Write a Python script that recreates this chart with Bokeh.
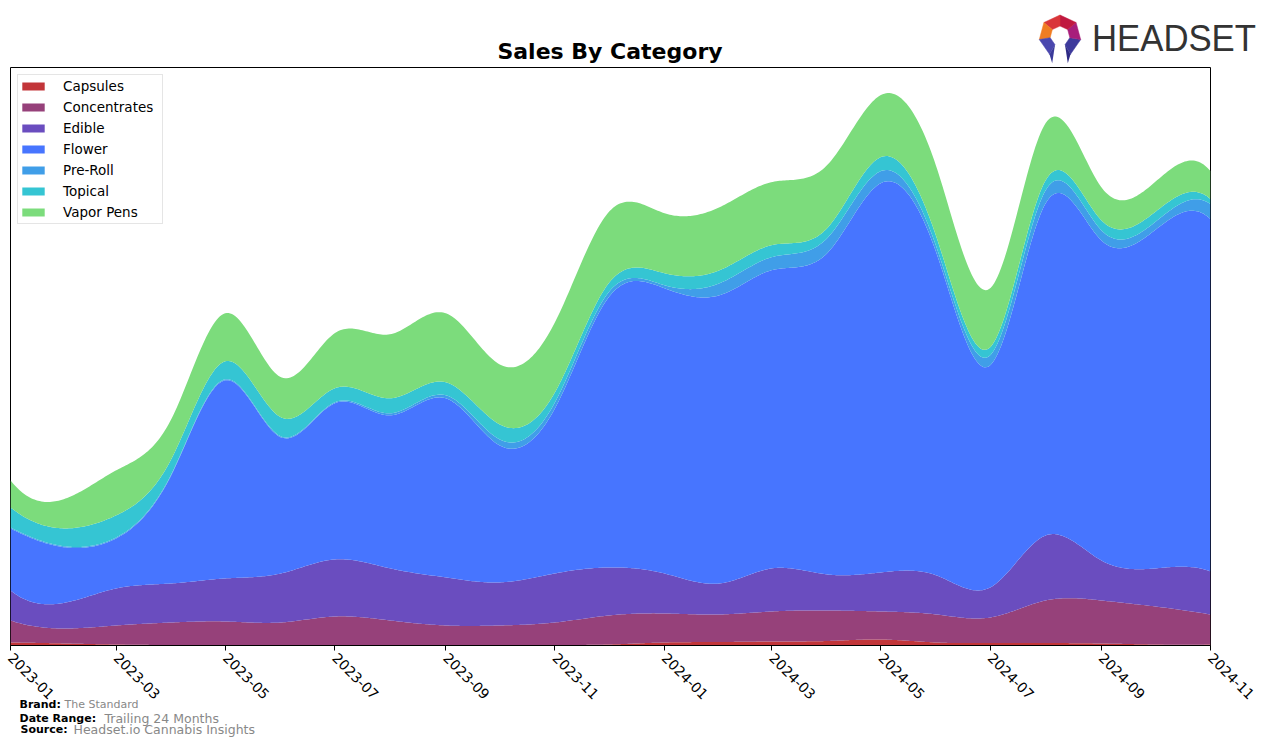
import numpy as np
import pandas as pd
from bokeh.plotting import figure
from bokeh.models import ColumnDataSource, FixedTicker, DatetimeTickFormatter, Range1d, Div
from bokeh.layouts import column
from bokeh.embed import file_html
from bokeh.resources import INLINE
from bokeh.core.properties import value

# ---------------- data (monthly, 2023-01 .. 2024-11) ----------------
months = ["2023-01", "2023-02", "2023-03", "2023-04", "2023-05", "2023-06", "2023-07",
          "2023-08", "2023-09", "2023-10", "2023-11", "2023-12", "2024-01", "2024-02",
          "2024-03", "2024-04", "2024-05", "2024-06", "2024-07", "2024-08", "2024-09",
          "2024-10", "2024-11"]
capsules = [3, 2, 1, 0.5, 0.5, 0.5, 0.3, 0.3, 0.3, 0.3, 0.5, 1, 3, 3.5, 4, 4.5, 6, 3, 2.5, 2.5, 2, 1, 1]
concentrates = [22, 15, 19, 22.5, 23.5, 22.5, 28.7, 24.7, 19.7, 19.7, 22.5, 29, 29, 27.5, 30, 30.5,
                28, 28, 25.5, 42.5, 43, 38, 30]
edible = [30, 26, 37, 39, 43, 49, 57, 52, 48, 43, 49, 48, 40, 31, 43, 36, 39, 39, 30, 65, 40, 38, 43]
flower = [62, 55, 50, 109, 198, 136, 156, 153, 179, 137, 165, 270, 285, 288, 298, 321, 389, 322,
          222, 332, 320, 338, 352]
preroll = [1, 1, 1, 1, 1, 1, 1, 2, 3, 6, 6, 5, 3, 12, 13, 15, 12, 6, 10, 13, 10, 8, 15]
topical = [20, 18, 22, 15, 18, 19, 14, 15, 13, 15, 10, 9, 12, 13, 12, 10, 14, 10, 8, 10, 10, 10, 5]
vapor = [27, 30, 45, 40, 48, 40, 55, 64, 69, 60, 70, 71, 60, 63, 63, 63, 62, 70, 59, 57, 33, 30, 28]

categories = ["Capsules", "Concentrates", "Edible", "Flower", "Pre-Roll", "Topical", "Vapor Pens"]
series = [capsules, concentrates, edible, flower, preroll, topical, vapor]
colors = ["#C23539", "#96417A", "#6A4DBF", "#4775FF", "#409EE8", "#35C5D3", "#7CDC7C"]
tick_labels = ["2023-01", "2023-03", "2023-05", "2023-07", "2023-09", "2023-11",
               "2024-01", "2024-03", "2024-05", "2024-07", "2024-09", "2024-11"]

footer_keys = ["Brand:", "Date Range:", "Source:"]
footer_vals = ["The Standard", "Trailing 24 Months", "Headset.io Cannabis Insights"]


def spline(xs, ys, xq):
    xs = np.asarray(xs, float)
    ys = np.asarray(ys, float)
    n = len(xs)
    h = np.diff(xs)
    A = np.zeros((n, n))
    b = np.zeros(n)
    for i in range(1, n - 1):
        A[i, i - 1] = h[i - 1]
        A[i, i] = 2 * (h[i - 1] + h[i])
        A[i, i + 1] = h[i]
        b[i] = 6 * ((ys[i + 1] - ys[i]) / h[i] - (ys[i] - ys[i - 1]) / h[i - 1])
    A[0, 0] = h[1]
    A[0, 1] = -(h[0] + h[1])
    A[0, 2] = h[0]
    A[-1, -3] = h[-1]
    A[-1, -2] = -(h[-2] + h[-1])
    A[-1, -1] = h[-2]
    M = np.linalg.solve(A, b)
    idx = np.clip(np.searchsorted(xs, xq) - 1, 0, n - 2)
    x0 = xs[idx]
    x1 = xs[idx + 1]
    hh = x1 - x0
    t0 = x1 - xq
    t1 = xq - x0
    return (M[idx] * t0 ** 3 / (6 * hh) + M[idx + 1] * t1 ** 3 / (6 * hh)
            + (ys[idx] / hh - M[idx] * hh / 6) * t0 + (ys[idx + 1] / hh - M[idx + 1] * hh / 6) * t1)


dates = pd.to_datetime(months)
days = ((dates - pd.Timestamp("1970-01-01")) / pd.Timedelta(days=1)).to_numpy()
dq = np.linspace(days[0], days[-1], 700)
data = {"x": dq * 86400000.0}
for name, s in zip(categories, series):
    data[name] = np.clip(spline(days, s, dq), 0, None)
src = ColumnDataSource(data)

totals = np.sum(np.array(series, float), axis=0)
ymax = totals.max() * 1.05
x0 = days[0] * 86400000.0
x1 = days[-1] * 86400000.0

W = 1270

# ---------------- header: title + logo ----------------
cx, cy, ro, ri = 30, 28, 21, 10
segs = [(-60, -10, "#3D3A9C"), (-10, 40, "#A81E7B"), (40, 90, "#C0183F"),
        (90, 140, "#D9363A"), (140, 190, "#F07D22"), (190, 240, "#4A47AE")]
polys = ""
for a0, a1, c in segs:
    r0, r1 = np.radians(a0), np.radians(a1)
    pts = [(cx + ro * np.cos(r0), cy - ro * np.sin(r0)), (cx + ro * np.cos(r1), cy - ro * np.sin(r1)),
           (cx + ri * np.cos(r1), cy - ri * np.sin(r1)), (cx + ri * np.cos(r0), cy - ri * np.sin(r0))]
    polys += '<polygon points="%s" fill="%s" stroke="%s" stroke-width="0.5"/>' % (
        " ".join("%.1f,%.1f" % q for q in pts), c, c)
for a, c in [(-60, "#2E2B85"), (240, "#3A3A9A")]:
    r = np.radians(a)
    po = (cx + ro * np.cos(r), cy - ro * np.sin(r))
    pi_ = (cx + ri * np.cos(r), cy - ri * np.sin(r))
    tip = ((po[0] + pi_[0]) / 2, po[1] + 9)
    polys += '<polygon points="%.1f,%.1f %.1f,%.1f %.1f,%.1f" fill="%s"/>' % (
        po[0], po[1], pi_[0], pi_[1], tip[0], tip[1], c)

header_html = (
    '<div style="position:relative;width:%dpx;height:66px;">' % W
    + '<div style="position:absolute;left:0px;width:1220px;top:40px;text-align:center;'
      'font-family:\'DejaVu Sans\';font-weight:bold;font-size:22px;line-height:24px;color:black;">'
      'Sales By Category</div>'
    + '<svg xmlns="http://www.w3.org/2000/svg" width="236" height="60" '
      'style="position:absolute;left:1030px;top:8px;overflow:visible;">'
    + polys
    + '<text x="62" y="43" font-family="Roboto" font-size="36" textLength="164" '
      'lengthAdjust="spacingAndGlyphs" fill="#333333">HEADSET</text></svg></div>'
)
hdr = Div(text=header_html, width=W, height=66, margin=(0, 0, 0, 0))

# ---------------- main chart ----------------
p = figure(width=W, height=678, x_axis_type="datetime", toolbar_location=None,
           output_backend="svg", x_range=Range1d(x0, x1), y_range=Range1d(0, ymax),
           min_border_left=10, min_border_right=60, min_border_top=1, min_border_bottom=99)
p.varea_stack(stackers=categories, x="x", color=colors, legend_label=categories, source=src)

p.yaxis.visible = False
p.xgrid.visible = False
p.ygrid.visible = False
p.outline_line_color = "black"
p.outline_line_width = 1

tick_ms = [(pd.Timestamp(t) - pd.Timestamp("1970-01-01")) / pd.Timedelta(milliseconds=1) for t in tick_labels]
p.xaxis.ticker = FixedTicker(ticks=tick_ms)
fmt = "%Y-%m"
p.xaxis.formatter = DatetimeTickFormatter(milliseconds=fmt, seconds=fmt, minsec=fmt, minutes=fmt,
                                          hourmin=fmt, hours=fmt, days=fmt, months=fmt, years=fmt)
p.xaxis.major_label_orientation = -np.pi / 4
p.xaxis.major_label_text_font = "DejaVu Sans"
p.xaxis.major_label_text_font_size = "14px"
p.xaxis.major_label_text_color = "black"
p.xaxis.axis_line_color = "black"
p.xaxis.major_tick_line_color = "black"
p.xaxis.major_tick_out = 5
p.xaxis.major_tick_in = 0
p.xaxis.minor_tick_line_color = None

lg = p.legend[0]
lg.location = "top_left"
lg.margin = 7
lg.padding = 1
lg.spacing = 1
lg.label_height = 20
lg.label_width = 98
lg.glyph_width = 28
lg.glyph_height = 10
lg.label_standoff = 16
lg.label_text_font = "DejaVu Sans"
lg.label_text_font_size = "13.5px"
lg.label_text_color = "black"
lg.border_line_color = "#cccccc"
lg.background_fill_alpha = 1.0

# ---------------- footer (transparent figure overlapping the bottom of the chart) ----------------
FH = 50
ftr = figure(width=W, height=FH, x_range=Range1d(10, 1210), y_range=Range1d(0, FH),
             toolbar_location=None, output_backend="svg",
             min_border_left=10, min_border_right=60, min_border_top=0, min_border_bottom=0)
ftr.axis.visible = False
ftr.grid.visible = False
ftr.outline_line_color = None
ftr.background_fill_alpha = 0
ftr.border_fill_alpha = 0
ftr.margin = (-FH, 0, 0, 0)
key_x = [19, 19, 20]
val_x = [64, 104, 73]
row_y = [FH - 10, FH - 24, FH - 35]
val_sizes = ["11px", "12.5px", "12.5px"]
ftr.text(x=key_x, y=row_y, text=footer_keys, text_font=value("DejaVu Sans"), text_font_style="bold",
         text_font_size="11px", text_color="black", text_baseline="middle", text_align="left")
for vx, vy, vt, vs in zip(val_x, row_y, footer_vals, val_sizes):
    ftr.text(x=[vx], y=[vy], text=[vt], text_font=value("DejaVu Sans"), text_font_size=vs,
             text_color="#888888", text_baseline="middle", text_align="left")

layout = column(hdr, p, ftr, spacing=0)
open("out.html", "w").write(file_html(layout, INLINE))
